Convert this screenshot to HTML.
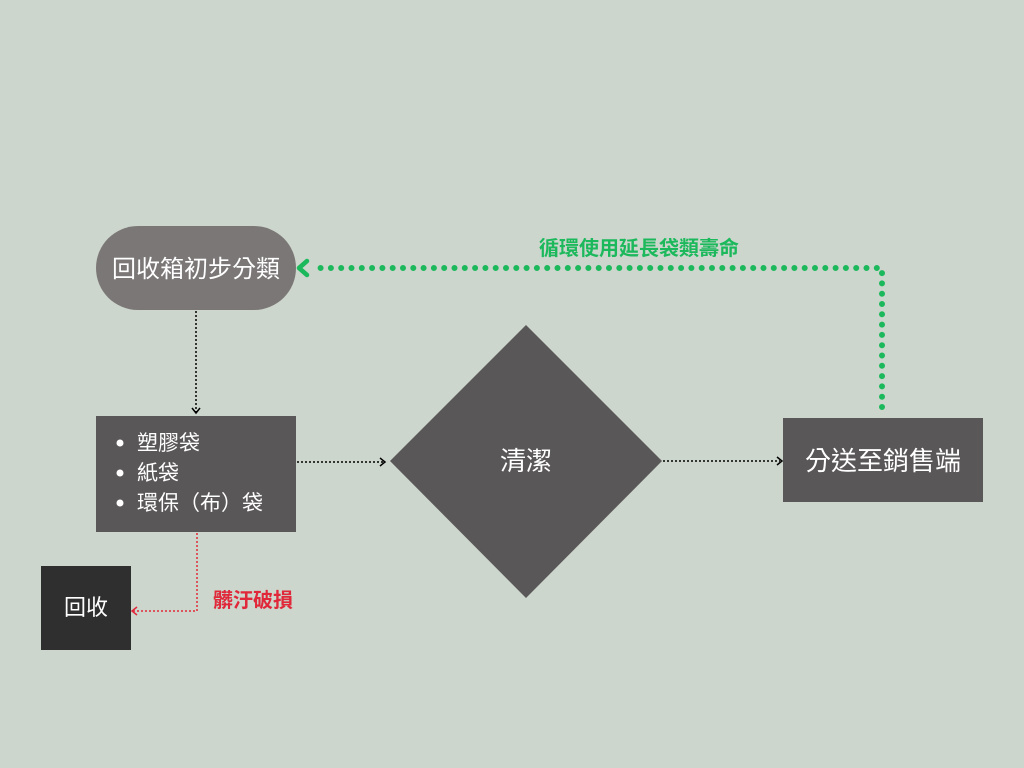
<!DOCTYPE html>
<html><head><meta charset="utf-8"><style>
html,body{margin:0;padding:0;background:#ccd6cc;overflow:hidden;width:1024px;height:768px;}
svg{display:block;}
svg text{font-family:"Liberation Sans","Noto Sans CJK TC",sans-serif;}
</style></head><body>
<svg width="1024" height="768" viewBox="0 0 1024 768" xmlns="http://www.w3.org/2000/svg">
<rect width="1024" height="768" fill="#ccd6cc"/>
<rect x="96" y="226" width="200" height="84" rx="42" fill="#7b7777"/>
<text x="196" y="277" font-size="24" fill="#fff" text-anchor="middle">回收箱初步分類</text>
<rect x="96" y="416" width="200" height="116" fill="#5a5758"/>
<circle cx="120" cy="443" r="3.5" fill="#fff"/><text x="137" y="450" font-size="21" fill="#fff">塑膠袋</text>
<circle cx="120" cy="473" r="3.5" fill="#fff"/><text x="137" y="480" font-size="21" fill="#fff">紙袋</text>
<circle cx="120" cy="503" r="3.5" fill="#fff"/><text x="137" y="510" font-size="21" fill="#fff">環保（布）袋</text>
<polygon points="526,325 662,461 526,598 390,461" fill="#5a5758"/>
<text x="526" y="470" font-size="26" fill="#fff" text-anchor="middle">清潔</text>
<rect x="783" y="418" width="200" height="84" fill="#5a5758"/>
<text x="883" y="470" font-size="26" fill="#fff" text-anchor="middle">分送至銷售端</text>
<rect x="41" y="566" width="90" height="84" fill="#2f2f2f"/>
<text x="86" y="615" font-size="22" fill="#fff" text-anchor="middle">回收</text>
<line x1="196" y1="311" x2="196" y2="412" stroke="#000" stroke-width="1.5" stroke-dasharray="2,2"/>
<polyline points="192,408 196,413 200,408" fill="none" stroke="#000" stroke-width="1.5"/>
<line x1="297" y1="462" x2="383" y2="462" stroke="#000" stroke-width="1.5" stroke-dasharray="2,2"/>
<polyline points="380,458 385,462 380,466" fill="none" stroke="#000" stroke-width="1.5"/>
<line x1="663" y1="461" x2="780" y2="461" stroke="#000" stroke-width="1.5" stroke-dasharray="2,2"/>
<polyline points="777,457 782,461 777,465" fill="none" stroke="#000" stroke-width="1.5"/>
<polyline points="197,533 197,611 133,611" fill="none" stroke="#e0283a" stroke-width="1.5" stroke-dasharray="2,2"/>
<polyline points="137,607 132,611 137,615" fill="none" stroke="#e0283a" stroke-width="1.5"/>
<text x="213" y="607" font-size="20" font-weight="bold" fill="#e0283a">髒汙破損</text>
<polyline points="882,407 882,268 312,268" fill="none" stroke="#1cb85c" stroke-width="6" stroke-linecap="round" stroke-dasharray="0,10.3"/>
<polyline points="307,261 299,268 307,275" fill="none" stroke="#1cb85c" stroke-width="4.5" stroke-linecap="round" stroke-linejoin="round"/>
<text x="639" y="255" font-size="20" font-weight="bold" fill="#1cb85c" text-anchor="middle">循環使用延長袋類壽命</text>
</svg>
</body></html>
